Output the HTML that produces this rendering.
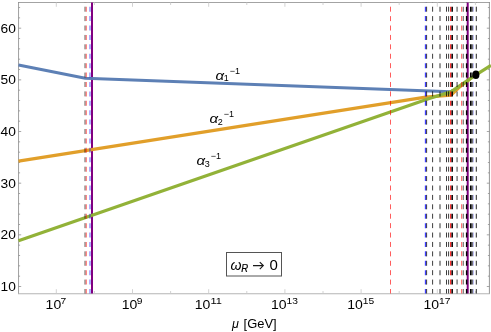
<!DOCTYPE html>
<html><head><meta charset="utf-8"><title>plot</title>
<style>
html,body{margin:0;padding:0;background:#fff;}
body{width:491px;height:332px;overflow:hidden;font-family:"Liberation Sans",sans-serif;}
svg{display:block}
text{font-family:"Liberation Sans",sans-serif;fill:#000}
.it{font-style:italic}
</style></head><body>
<svg style="will-change:transform" width="491" height="332" viewBox="0 0 491 332">
<rect x="0" y="0" width="491" height="332" fill="#ffffff"/>
<path d="M18.0 2.5H489.5" fill="none" stroke="#a3a3a3" stroke-width="1"/>
<path d="M18.55 294.0V2.0" fill="none" stroke="#8e8e8e" stroke-width="0.85"/>
<path d="M489.4 2.0V294.0" fill="none" stroke="#727272" stroke-width="0.75"/>
<path d="M18.0 293.75H489.8" fill="none" stroke="#b4b4b4" stroke-width="1"/>
<path d="M18.5 286.50h2.7M489.5 286.50h-2.7M18.5 276.17h1.6M489.5 276.17h-1.6M18.5 265.84h1.6M489.5 265.84h-1.6M18.5 255.50h1.6M489.5 255.50h-1.6M18.5 245.17h1.6M489.5 245.17h-1.6M18.5 234.84h2.7M489.5 234.84h-2.7M18.5 224.51h1.6M489.5 224.51h-1.6M18.5 214.18h1.6M489.5 214.18h-1.6M18.5 203.84h1.6M489.5 203.84h-1.6M18.5 193.51h1.6M489.5 193.51h-1.6M18.5 183.18h2.7M489.5 183.18h-2.7M18.5 172.85h1.6M489.5 172.85h-1.6M18.5 162.52h1.6M489.5 162.52h-1.6M18.5 152.18h1.6M489.5 152.18h-1.6M18.5 141.85h1.6M489.5 141.85h-1.6M18.5 131.52h2.7M489.5 131.52h-2.7M18.5 121.19h1.6M489.5 121.19h-1.6M18.5 110.86h1.6M489.5 110.86h-1.6M18.5 100.52h1.6M489.5 100.52h-1.6M18.5 90.19h1.6M489.5 90.19h-1.6M18.5 79.86h2.7M489.5 79.86h-2.7M18.5 69.53h1.6M489.5 69.53h-1.6M18.5 59.20h1.6M489.5 59.20h-1.6M18.5 48.86h1.6M489.5 48.86h-1.6M18.5 38.53h1.6M489.5 38.53h-1.6M18.5 28.20h2.7M489.5 28.20h-2.7M18.5 17.87h1.6M489.5 17.87h-1.6M18.5 7.54h1.6M489.5 7.54h-1.6" stroke="#909090" stroke-width="0.8" fill="none"/>
<path d="M56.30 293.5v-4.3M56.30 2.5v4.3M94.40 293.5v-2.5M94.40 2.5v2.5M132.50 293.5v-4.3M132.50 2.5v4.3M170.60 293.5v-2.5M170.60 2.5v2.5M208.70 293.5v-4.3M208.70 2.5v4.3M246.80 293.5v-2.5M246.80 2.5v2.5M284.90 293.5v-4.3M284.90 2.5v4.3M323.00 293.5v-2.5M323.00 2.5v2.5M361.10 293.5v-4.3M361.10 2.5v4.3M399.20 293.5v-2.5M399.20 2.5v2.5M437.30 293.5v-4.3M437.30 2.5v4.3M475.40 293.5v-2.5M475.40 2.5v2.5" stroke="#cdcdcd" stroke-width="0.9" fill="none"/>
<defs><clipPath id="cp"><rect x="18.5" y="2.5" width="471.0" height="291.0"/></clipPath></defs>
<path d="M92.0 293.5V2.5" stroke="#800080" stroke-width="2" fill="none"/>
<path d="M467.7 293.5V2.5" stroke="#800080" stroke-width="2" fill="none"/>
<g fill="none" stroke-width="3.3" stroke-linejoin="round" opacity="0.97">
<path d="M18.5 65.1L85.3 78.3L450.9 91.8L453 90.4" stroke="#587CB3" stroke-width="3.1"/>
<path d="M18.5 161.2L425.7 97.03L450.8 95.2L460 86.6L470 79.0" stroke="#E19C24"/>
<path d="M18.5 240.8L430 98.25L451 91.9L460 85.6L475.9 74.9L491 65.4" stroke="#8FB032"/>
</g>
<g fill="none" clip-path="url(#cp)">
<path d="M85.0 294V0" stroke="#000000" stroke-width="1.0" stroke-opacity="0.62" stroke-dasharray="5 4.41"/>
<path d="M86.3 294V0" stroke="#ff0000" stroke-width="1.3" stroke-opacity="0.5" stroke-dasharray="5 4.41"/>
<path d="M90.0 294V0" stroke="#0000ff" stroke-width="1.8" stroke-opacity="0.35" stroke-dasharray="5 4.41"/>
<path d="M390.5 294V0" stroke="#ff0000" stroke-width="0.8" stroke-opacity="0.8" stroke-dasharray="5 4.41"/>
<path d="M425.5 294V0" stroke="#0000ff" stroke-width="1.3" stroke-opacity="0.75" stroke-dasharray="5 4.41"/>
<path d="M426.6 294V0" stroke="#000000" stroke-width="1.0" stroke-opacity="0.75" stroke-dasharray="5 4.41"/>
<path d="M432.6 294V0" stroke="#000000" stroke-width="0.9" stroke-opacity="0.85" stroke-dasharray="5 4.41"/>
<path d="M440.0 294V0" stroke="#000000" stroke-width="1.6" stroke-opacity="0.5" stroke-dasharray="5 4.41"/>
<path d="M446.5 294V0" stroke="#000000" stroke-width="0.9" stroke-opacity="0.85" stroke-dasharray="5 4.41"/>
<path d="M448.6 294V0" stroke="#000000" stroke-width="0.9" stroke-opacity="0.85" stroke-dasharray="5 4.41"/>
<path d="M450.7 294V0" stroke="#ff0000" stroke-width="1.3" stroke-opacity="0.85" stroke-dasharray="5 4.41"/>
<path d="M452.2 294V0" stroke="#000000" stroke-width="1.6" stroke-opacity="0.95" stroke-dasharray="5 4.41"/>
<path d="M457.1 294V0" stroke="#000000" stroke-width="1.5" stroke-opacity="0.5" stroke-dasharray="5 4.41"/>
<path d="M461.6 294V0" stroke="#ff0000" stroke-width="1.2" stroke-opacity="0.55" stroke-dasharray="5 4.41"/>
<path d="M463.3 294V0" stroke="#000000" stroke-width="1.2" stroke-opacity="0.55" stroke-dasharray="5 4.41"/>
<path d="M466.6 294V0" stroke="#000000" stroke-width="1.4" stroke-opacity="1" stroke-dasharray="5 4.41"/>
<path d="M470.8 294V0" stroke="#000000" stroke-width="1.7" stroke-opacity="1" stroke-dasharray="5 4.41"/>
<path d="M472.4 294V0" stroke="#000000" stroke-width="1.4" stroke-opacity="0.55" stroke-dasharray="5 4.41"/>
<path d="M473.5 294V0" stroke="#0000ff" stroke-width="0.8" stroke-opacity="0.27" stroke-dasharray="5 4.41"/>
<path d="M476.3 294V0" stroke="#000000" stroke-width="1.0" stroke-opacity="0.85" stroke-dasharray="5 4.41"/>
</g>
<ellipse cx="475.9" cy="74.8" rx="3.5" ry="4.3" fill="#000"/>
<text x="0.5" y="291.0" font-size="13.6" textLength="15.3" lengthAdjust="spacingAndGlyphs">10</text>
<text x="0.5" y="239.3" font-size="13.6" textLength="15.3" lengthAdjust="spacingAndGlyphs">20</text>
<text x="0.5" y="187.7" font-size="13.6" textLength="15.3" lengthAdjust="spacingAndGlyphs">30</text>
<text x="0.5" y="136.0" font-size="13.6" textLength="15.3" lengthAdjust="spacingAndGlyphs">40</text>
<text x="0.5" y="84.4" font-size="13.6" textLength="15.3" lengthAdjust="spacingAndGlyphs">50</text>
<text x="0.5" y="32.7" font-size="13.6" textLength="15.3" lengthAdjust="spacingAndGlyphs">60</text>
<text x="45.6" y="309.1" font-size="13.6" textLength="15.6" lengthAdjust="spacingAndGlyphs">10</text><text x="60.5" y="303.7" font-size="9.7" textLength="5.7" lengthAdjust="spacingAndGlyphs">7</text>
<text x="121.8" y="309.1" font-size="13.6" textLength="15.6" lengthAdjust="spacingAndGlyphs">10</text><text x="136.7" y="303.7" font-size="9.7" textLength="5.7" lengthAdjust="spacingAndGlyphs">9</text>
<text x="194.8" y="309.1" font-size="13.6" textLength="15.6" lengthAdjust="spacingAndGlyphs">10</text><text x="210.4" y="303.7" font-size="9.7" textLength="11.4" lengthAdjust="spacingAndGlyphs">11</text>
<text x="271.0" y="309.1" font-size="13.6" textLength="15.6" lengthAdjust="spacingAndGlyphs">10</text><text x="286.6" y="303.7" font-size="9.7" textLength="11.4" lengthAdjust="spacingAndGlyphs">13</text>
<text x="347.2" y="309.1" font-size="13.6" textLength="15.6" lengthAdjust="spacingAndGlyphs">10</text><text x="362.8" y="303.7" font-size="9.7" textLength="11.4" lengthAdjust="spacingAndGlyphs">15</text>
<text x="423.4" y="309.1" font-size="13.6" textLength="15.6" lengthAdjust="spacingAndGlyphs">10</text><text x="439.0" y="303.7" font-size="9.7" textLength="11.4" lengthAdjust="spacingAndGlyphs">17</text>
<text x="232" y="327.8" font-size="12.5" class="it">μ</text><text x="243.6" y="327.8" font-size="12.5" textLength="33" lengthAdjust="spacingAndGlyphs">[GeV]</text>
<text x="215.6" y="79.6" font-size="13" class="it" textLength="8.6" lengthAdjust="spacingAndGlyphs">α</text><text x="223.79999999999998" y="81.39999999999999" font-size="9">1</text><text x="229.79999999999998" y="74.0" font-size="9">−1</text>
<text x="209.6" y="122.7" font-size="13" class="it" textLength="8.6" lengthAdjust="spacingAndGlyphs">α</text><text x="217.79999999999998" y="124.5" font-size="9">2</text><text x="223.79999999999998" y="117.10000000000001" font-size="9">−1</text>
<text x="196.5" y="164.9" font-size="13" class="it" textLength="8.6" lengthAdjust="spacingAndGlyphs">α</text><text x="204.7" y="166.70000000000002" font-size="9">3</text><text x="210.7" y="159.3" font-size="9">−1</text>
<rect x="226.5" y="252.5" width="55" height="23.5" fill="#fff" stroke="#555" stroke-width="1"/>
<text x="230.6" y="269.6" font-size="15" class="it" textLength="11" lengthAdjust="spacingAndGlyphs">ω</text><text x="241.3" y="272" font-size="10.8" class="it" textLength="6.9" lengthAdjust="spacingAndGlyphs" stroke="#000" stroke-width="0.2">R</text><path d="M253 265.6H262.9M259.8 262.1L263.3 265.6L259.8 269.1" fill="none" stroke="#1a1a1a" stroke-width="1.15"/><text x="269.4" y="270" font-size="15">0</text>
</svg></body></html>
